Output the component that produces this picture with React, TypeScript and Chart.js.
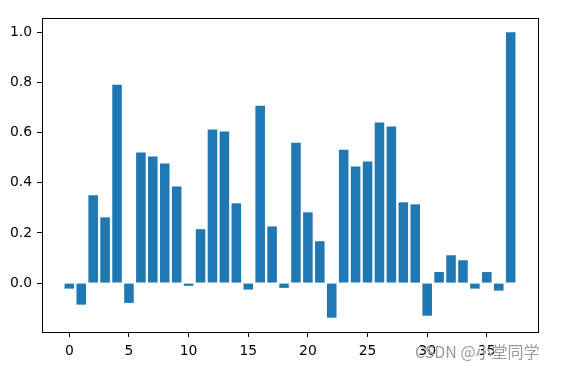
import React, { useEffect, useRef } from "react";
import { Chart, registerables } from "chart.js";

Chart.register(...registerables);

const categories: number[] = Array.from({ length: 38 }, (_, i) => i);
const values: number[] = [
  -0.022, -0.086, 0.35, 0.262, 0.791, -0.079, 0.521, 0.505, 0.477, 0.385,
  -0.011, 0.215, 0.612, 0.604, 0.318, -0.026, 0.707, 0.226, -0.019, 0.56,
  0.282, 0.167, -0.138, 0.532, 0.465, 0.485, 0.64, 0.624, 0.322, 0.314,
  -0.13, 0.044, 0.111, 0.091, -0.022, 0.044, -0.03, 1.0,
];
const xTicks: number[] = [0, 5, 10, 15, 20, 25, 30, 35];
const yTicks: number[] = [0, 0.2, 0.4, 0.6, 0.8, 1.0];
const watermark = "CSDN @小堂同学";

const FONT = "'DejaVu Sans', sans-serif";

const framePlugin = {
  id: "frame",
  afterDatasetsDraw(chart: any) {
    const { ctx, chartArea } = chart;
    ctx.save();
    ctx.strokeStyle = "#000";
    ctx.lineWidth = 1;
    ctx.strokeRect(
      Math.round(chartArea.left) + 0.5,
      Math.round(chartArea.top) + 0.5,
      Math.round(chartArea.right) - Math.round(chartArea.left),
      Math.round(chartArea.bottom) - Math.round(chartArea.top)
    );
    ctx.restore();
  },
  afterDraw(chart: any) {
    const { ctx } = chart;
    ctx.save();
    ctx.font = "16px 'Noto Sans CJK SC', sans-serif";
    ctx.textBaseline = "middle";
    ctx.textAlign = "left";
    ctx.fillStyle = "rgba(255,255,255,0.8)";
    ctx.fillText(watermark, 416, 353);
    ctx.fillStyle = "rgba(120,120,120,0.75)";
    ctx.fillText(watermark, 415, 352);
    ctx.restore();
  },
};

export default function App() {
  const ref = useRef<HTMLCanvasElement | null>(null);
  useEffect(() => {
    if (!ref.current) return;
    const chart = new Chart(ref.current, {
      type: "bar",
      data: {
        datasets: [
          {
            data: categories.map((c, i) => ({ x: c, y: values[i] })),
            backgroundColor: "#1f77b4",
            borderWidth: 0,
            categoryPercentage: 1,
            barPercentage: 0.8,
          },
        ],
      },
      options: {
        animation: false,
        responsive: false,
        events: [],
        layout: { padding: { top: 18, right: 28, left: 0, bottom: 0 } },
        plugins: { legend: { display: false }, tooltip: { enabled: false } },
        scales: {
          x: {
            type: "linear",
            min: -2.29,
            max: 39.29,
            offset: false,
            afterBuildTicks: (s: any) => {
              s.ticks = xTicks.map((v) => ({ value: v }));
            },
            afterFit: (s: any) => {
              s.height = 38;
            },
            grid: {
              display: true,
              offset: false,
              drawOnChartArea: false,
              drawTicks: true,
              tickLength: 5,
              color: "#000",
            },
            border: { display: true, color: "#000", width: 1 },
            ticks: {
              color: "#000",
              padding: 6,
              maxRotation: 0,
              autoSkip: false,
              font: { family: FONT, size: 13.9 },
              callback: (v: any) => String(v),
            },
          },
          y: {
            type: "linear",
            min: -0.195,
            max: 1.057,
            afterBuildTicks: (s: any) => {
              s.ticks = yTicks.map((v) => ({ value: v }));
            },
            afterFit: (s: any) => {
              s.width = 42;
            },
            grid: {
              display: true,
              offset: false,
              drawOnChartArea: false,
              drawTicks: true,
              tickLength: 5,
              color: "#000",
            },
            border: { display: true, color: "#000", width: 1 },
            ticks: {
              color: "#000",
              padding: 5,
              autoSkip: false,
              font: { family: FONT, size: 13.9 },
              callback: (v: any) => Number(v).toFixed(1),
            },
          },
        },
      },
      plugins: [framePlugin],
    });
    return () => chart.destroy();
  }, []);
  return (
    <div style={{ position: "fixed", left: 0, top: 0, width: 566, height: 370, background: "#fff" }}>
      <canvas ref={ref} width={566} height={370} style={{ width: 566, height: 370, display: "block" }} />
    </div>
  );
}
